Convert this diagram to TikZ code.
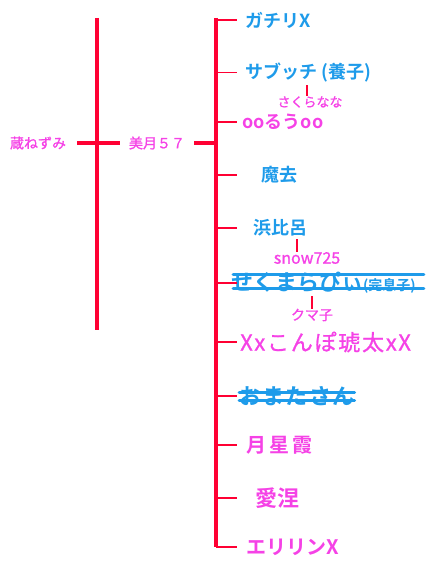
\documentclass[tikz,border=0pt]{standalone}
\usepackage{fontspec}
\setmainfont{Noto Sans CJK JP}[BoldFont={Noto Sans CJK JP Bold}]
\usetikzlibrary{positioning}
\definecolor{barred}{HTML}{FF0033}
\definecolor{nameblue}{HTML}{1E9BEA}
\definecolor{namepink}{HTML}{F542E6}

\begin{document}
\begin{tikzpicture}[x=1pt, y=-1pt,
  bar/.style={draw=barred, line width=4pt},
  lane/.style={draw=barred, line width=3.5pt},
  tick/.style={draw=barred, line width=1.6pt},
  link/.style={draw=barred, line width=2pt},
  strike/.style={draw=nameblue, line width=3pt, line cap=round},
  bluename/.style={anchor=west, inner sep=0pt, text=nameblue, font=\fontsize{18}{20}\selectfont\bfseries},
  pinkname/.style={anchor=west, inner sep=0pt, text=namepink, font=\fontsize{20}{22}\selectfont\bfseries},
  smalllabel/.style={inner sep=0pt, text=namepink, font=\fontsize{14}{16}\selectfont\addfontfeature{FakeBold=1}}]

%%=== COORDINATE PLAN (px, y down) ==================================
%%  canvas 439 x 564
%%  left bar   x=97   y=18..330
%%  right bar  x=216  y=18..547, ticks out to x=237
%%  parent row y=143
%%===================================================================
\useasboundingbox (0,0) rectangle (439,564);

%% --- Bars ----------------------------------------------------------
\coordinate (ltop) at (97,18);
\coordinate (lbot) at (97,330);
\coordinate (rtop) at (216,18);
\coordinate (rbot) at (216,547);
\draw[bar] (ltop) -- (lbot);
\draw[bar] (rtop) -- (rbot);

%% --- Parent row ----------------------------------------------------
\node[smalllabel] (kura)   at (38,143)  {蔵ねずみ};
\node[smalllabel] (mizuki) at (157,143) {美月５７};
\draw[lane] (77,143) -- (120,143);
\draw[lane] (194,143) -- (rtop |- mizuki);

%% --- Children ------------------------------------------------------
\node[bluename] (gachi) at (245,20)  {ガチリX};
\node[bluename] (sabu)  at (245,73)  {サブッチ (養子)};
\node[smalllabel, font=\fontsize{13}{15}\selectfont\addfontfeature{FakeBold=1}]
                (sakura) at (310,102) {さくらなな};
\node[pinkname, font=\fontsize{18}{20}\selectfont\bfseries]
                (ooru)  at (242,122) {ooるうoo};
\node[bluename] (makyo) at (261,175) {魔去};
\node[bluename] (hama)  at (253,228) {浜比呂};
\node[smalllabel, font=\fontsize{16}{18}\selectfont\addfontfeature{FakeBold=1}]
                (snow) at (307,258) {snow725};
\node[bluename, font=\fontsize{22}{24}\selectfont\bfseries]
                (seku)  at (231,283) {せくまらぴぃ{\fontsize{14}{16}\selectfont(完息子)}};
\node[smalllabel] (kuma) at (312,315) {クマ子};
\node[pinkname, font=\fontsize{22}{24}\selectfont\addfontfeature{LetterSpace=8,FakeBold=1}]
                (konpo) at (240,342) {Xxこんぽ琥太xX};
\node[bluename, font=\fontsize{22}{24}\selectfont\bfseries\addfontfeature{LetterSpace=6}]
                (omata) at (239,396) {おまたさん};
\node[pinkname] (tsuki) at (246,445) {月\,星\,霞};
\node[pinkname, font=\fontsize{22}{24}\selectfont\bfseries]
                (aine)  at (255,498) {愛涅};
\node[pinkname] (erin)  at (246,547) {エリリンX};

%% ticks from the right bar
\foreach \kid in {gachi,ooru,makyo,hama,seku,konpo,omata,tsuki,aine,erin}
  \draw[tick] (rtop |- \kid) -- ++(21,0);
\draw[tick, line width=1pt] (rtop |- sabu) -- ++(21,0);

%% partner links
\draw[link] (307,0 |- sakura.north) -- ++(0,-11);
\draw[link] (297,0 |- snow.north) -- ++(0,-13);
\draw[link] (kuma.north) -- ++(0,-13);

%% struck-out names
\draw[strike] ([yshift=9pt,xshift=2pt]seku.west) -- ([yshift=9pt,xshift=8pt]seku.east);
\draw[strike] ([yshift=-5pt,xshift=2pt]seku.west) -- ([yshift=-5pt,xshift=8pt]seku.east);
\draw[strike] ([yshift=4pt]omata.west) -- ([yshift=4pt]omata.east);
\draw[strike] ([yshift=-4pt]omata.west) -- ([yshift=-4pt]omata.east);

\end{tikzpicture}
\end{document}
